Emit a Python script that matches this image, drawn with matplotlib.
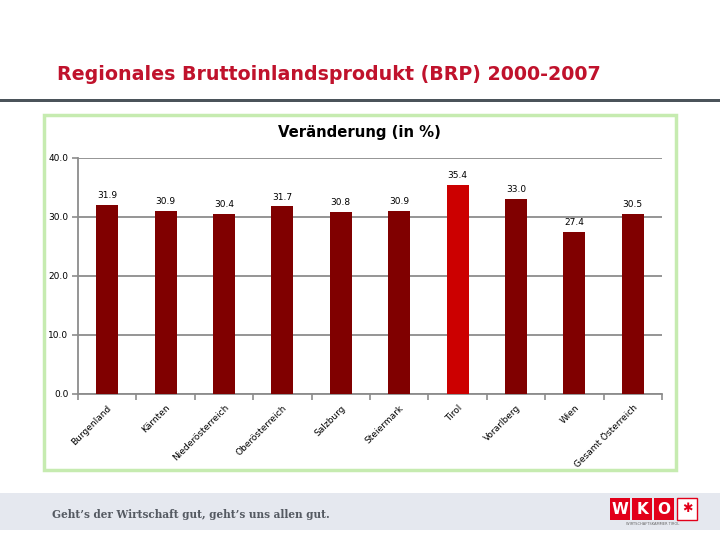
import matplotlib
matplotlib.use("Agg")
import matplotlib.pyplot as plt
from matplotlib.patches import Rectangle
import numpy as np

categories = ["Burgenland", "Kärnten", "Niederösterreich", "Oberösterreich", "Salzburg",
              "Steiermark", "Tirol", "Vorarlberg", "Wien", "Gesamt Österreich"]
values = [31.9, 30.9, 30.4, 31.7, 30.8, 30.9, 35.4, 33.0, 27.4, 30.5]
highlight = "Tirol"
yticks = [0, 10, 20, 30, 40]

W, H = 720, 540
fig = plt.figure(figsize=(7.2, 5.4), dpi=100)
fig.patch.set_facecolor("white")

def fx(px):
    return px / W

def fy(py):
    return 1 - py / H

# page title
fig.text(fx(57), fy(75), "Regionales Bruttoinlandsprodukt (BRP) 2000-2007",
         color="#c0122c", fontsize=13.7, fontweight="bold", va="center", ha="left")
# separator line
fig.add_artist(Rectangle((0, fy(101.5)), 1, 3 / H, transform=fig.transFigure,
                         color="#4b535a", lw=0, zorder=-1))
# chart frame (green)
fig.add_artist(Rectangle((fx(44), fy(470)), fx(676) - fx(44), (470 - 115) / H,
                         transform=fig.transFigure, facecolor="white",
                         edgecolor="#c6ebb0", lw=2.5, zorder=-1))
fig.text(fx(359), fy(133), "Veränderung (in %)", fontsize=10.7, fontweight="bold",
         ha="center", va="center", color="black")

ax = fig.add_axes([fx(78), fy(393.5), fx(662) - fx(78), (393.5 - 157.5) / H])
ax.set_facecolor("none")
x = np.arange(len(categories))
colors = ["#cc0000" if c == highlight else "#800000" for c in categories]
ax.bar(x, values, width=0.375, color=colors, zorder=3)
for xi, v in zip(x, values):
    ax.annotate(f"{v:.1f}", (xi, v), xytext=(0, 3.5), textcoords="offset points",
                ha="center", va="bottom", fontsize=6.5, color="black")

ax.set_xlim(-0.5, len(categories) - 0.5)
ax.set_ylim(0, 40)
ax.set_yticks(yticks)
ax.set_yticklabels([f"{t:.1f}" for t in yticks], fontsize=6.5)
ax.yaxis.grid(True, color="#8c8c8c", lw=1.3, zorder=0)
ax.set_axisbelow(True)
ax.tick_params(axis="y", length=4, width=1.2, color="#8c8c8c", pad=3)
ax.set_xticks(x)
ax.set_xticklabels(categories, rotation=45, ha="right", rotation_mode="anchor",
                   fontsize=6.5)
ax.tick_params(axis="x", which="major", length=0, pad=7)
ax.set_xticks(np.arange(-0.5, len(categories), 1.0), minor=True)
ax.tick_params(axis="x", which="minor", length=4, width=1.2, color="#8c8c8c")
for s in ["top", "right"]:
    ax.spines[s].set_visible(False)
for s in ["left", "bottom"]:
    ax.spines[s].set_color("#8c8c8c")
    ax.spines[s].set_linewidth(1.3)

# footer band
fig.add_artist(Rectangle((0, fy(530)), 1, (530 - 493) / H, transform=fig.transFigure,
                         color="#e5e8ef", lw=0, zorder=-1))
fig.text(fx(52), fy(515), "Geht’s der Wirtschaft gut, geht’s uns allen gut.",
         fontsize=7.6, family="DejaVu Serif", fontweight="bold", color="#555a62",
         va="center", ha="left")
# logo
for i, letter in enumerate(["W", "K", "O"]):
    x0 = 610 + i * 22
    fig.add_artist(Rectangle((fx(x0), fy(520)), 20 / W, 22 / H, transform=fig.transFigure,
                             color="#e2001a", lw=0))
    fig.text(fx(x0 + 10), fy(509), letter, color="white", fontsize=11, fontweight="bold",
             ha="center", va="center")
fig.add_artist(Rectangle((fx(677), fy(520)), 20 / W, 22 / H, transform=fig.transFigure,
                         facecolor="white", edgecolor="#e2001a", lw=1))
fig.text(fx(687), fy(509), "✱", color="#e2001a", fontsize=9, ha="center", va="center")
fig.text(fx(653), fy(524), "WIRTSCHAFTSKAMMER TIROL", fontsize=2.6, color="#666666",
         ha="center", va="center")

fig.savefig("out.png", dpi=100)
